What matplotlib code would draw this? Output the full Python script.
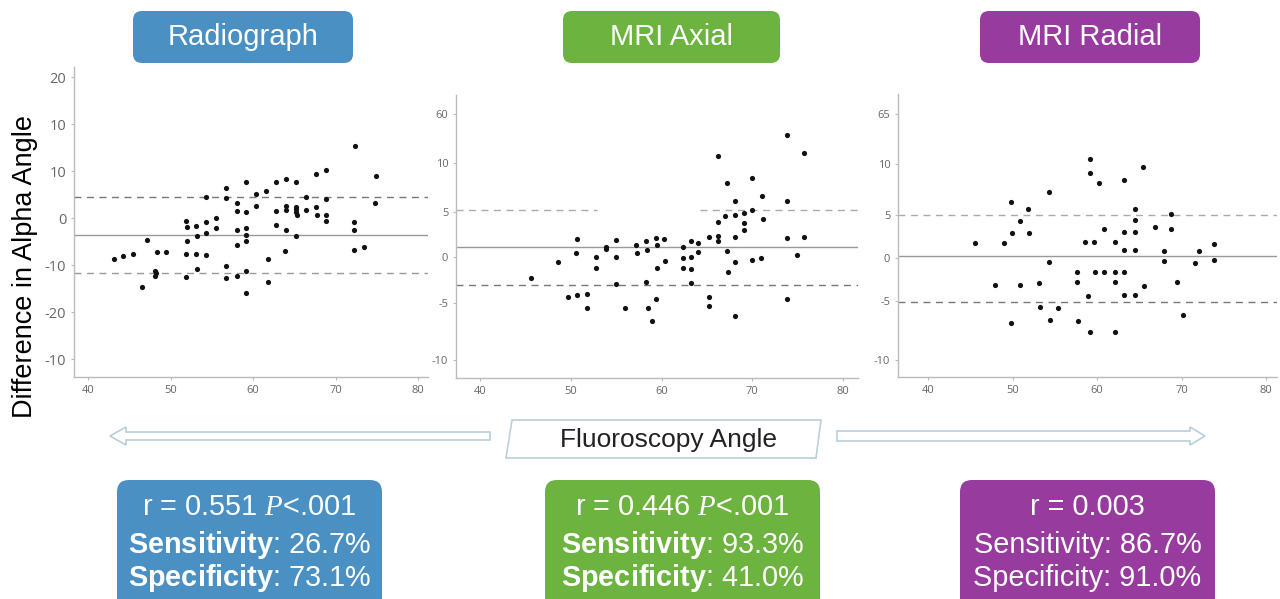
import matplotlib
matplotlib.use("Agg")
import matplotlib.pyplot as plt
from matplotlib.patches import FancyBboxPatch, Polygon
from matplotlib import font_manager

# ---------------- data ----------------
panel_titles = ["Radiograph", "MRI Axial", "MRI Radial"]

x_radiograph = [43.1, 44.2, 45.5, 47.1, 46.6, 48.3, 49.4, 48.1, 48.2, 48.1,
                51.9, 52.0, 52.0, 51.9, 51.9, 53.1, 53.2, 53.1, 53.2, 54.3,
                54.3, 54.3, 54.3, 55.5, 55.5, 56.7, 56.7, 56.7, 56.7, 58.0,
                58.0, 58.0, 58.0, 58.0, 59.2, 59.2, 59.2, 59.2, 59.2, 59.2,
                59.2, 60.4, 60.4, 61.6, 61.8, 61.8, 62.8, 62.8, 62.8, 64.0,
                64.0, 64.0, 64.0, 63.9, 65.2, 65.2, 65.2, 65.2, 65.3, 65.2,
                66.4, 66.4, 67.6, 67.6, 67.7, 68.8, 68.8, 68.8, 68.8, 72.3,
                72.2, 72.2, 72.2, 73.4, 74.9, 74.8]
y_radiograph = [-8.7, -8.0, -7.7, -4.6, -14.7, -7.2, -7.2, -11.3, -11.7, -12.3,
                -0.6, -1.8, -4.8, -7.7, -12.5, -1.7, -3.8, -7.7, -10.9, 4.5,
                -0.7, -3.2, -7.8, 0.1, -2.0, 6.5, 4.4, -10.1, -12.8, 3.2,
                1.5, -2.5, -5.7, -12.3, 7.7, 1.4, -2.1, -3.5, -4.8, -11.2,
                -15.9, 5.1, 2.6, 5.8, -8.7, -13.5, 7.7, 1.6, -1.4, 8.3,
                2.6, 1.7, -2.5, -6.9, 7.7, 2.5, 2.0, 1.4, 0.7, -3.7,
                4.5, 1.8, 9.4, 2.5, 0.6, 10.3, 4.2, 0.6, -0.6, 15.4,
                -0.8, -2.6, -6.7, -6.2, 9.0, 3.3]

x_mri_axial = [45.6, 48.5, 50.6, 50.5, 49.7, 50.6, 51.7, 51.7, 52.7, 52.7,
               53.8, 53.9, 55.0, 54.9, 54.9, 55.9, 57.2, 57.3, 58.3, 58.4,
               58.3, 58.5, 58.9, 59.4, 59.5, 59.5, 59.4, 60.3, 60.4, 62.3,
               62.3, 62.3, 63.2, 63.2, 63.2, 63.2, 64.0, 64.0, 65.2, 65.2,
               65.2, 66.2, 66.2, 66.2, 66.2, 67.0, 67.2, 67.2, 67.3, 68.1,
               68.1, 68.1, 68.1, 68.1, 69.1, 69.1, 69.1, 70.0, 70.0, 70.0,
               71.1, 71.2, 71.0, 73.8, 73.8, 73.8, 73.8, 74.9, 75.7, 75.7]
y_mri_axial = [-2.3, -0.5, 2.0, 0.5, -4.3, -4.1, -4.0, -5.5, 0.0, -1.2,
               1.2, 0.9, 1.9, 0.0, -2.9, -5.5, 1.4, 0.5, 1.8, 0.8,
               -2.7, -5.5, -7.0, 2.1, 1.4, -1.2, -4.6, 2.0, -0.4, 1.1,
               -0.1, -1.1, 1.8, 0.1, -1.3, -2.8, 1.6, 0.6, 2.2, -4.3,
               -5.3, 11.1, 3.9, 2.4, 1.8, 4.6, 8.2, 0.7, -1.6, 6.2,
               4.7, 2.2, -0.5, -6.4, 4.9, 3.8, 3.0, 8.7, 5.2, -0.3,
               6.7, 4.2, -0.1, 13.4, 6.2, 2.1, -4.5, 0.3, 11.4, 2.2]

x_mri_radial = [45.5, 47.9, 49.0, 49.8, 49.9, 49.8, 50.8, 50.9, 51.8, 51.9,
                53.1, 53.2, 54.3, 54.3, 54.4, 55.4, 57.6, 57.6, 57.7, 58.5,
                58.9, 59.1, 59.1, 59.1, 59.6, 59.7, 60.2, 60.8, 60.8, 62.1,
                62.1, 62.1, 62.1, 63.2, 63.2, 63.2, 63.2, 63.2, 64.5, 64.5,
                64.5, 64.5, 64.5, 65.4, 65.6, 66.8, 67.9, 67.9, 68.8, 68.8,
                69.4, 70.2, 71.6, 72.1, 73.8, 73.8]
y_mri_radial = [1.8, -3.1, 1.8, 6.5, 2.9, -7.5, 4.3, -3.1, 5.7, 2.9,
                -2.9, -5.7, 7.7, -0.4, -7.2, -5.8, -1.6, -2.8, -7.3, 1.9,
                -4.4, 11.6, 9.9, -8.6, 1.9, -1.6, 8.8, 3.4, -1.6, 1.9,
                -1.6, -2.8, -8.6, 9.1, 3.0, 1.0, -1.6, -4.3, 5.7, 4.4,
                3.1, 1.0, -4.3, 10.6, -3.2, 3.6, 0.9, -0.3, 5.1, 3.4,
                -2.7, -6.6, -0.5, 0.8, 1.7, -0.2]

# Bland-Altman lines: mean, upper limit, lower limit
mean_lines = [-3.6, 1.17, 0.31]
upper_limits = [4.6, 5.2, 5.0]
lower_limits = [-11.6, -3.03, -5.04]

x_ticks = [40, 50, 60, 70, 80]
x_tick_labels = ["40", "50", "60", "70", "80"]
y_tick_pos = [[30, 20, 10, 0, -10, -20, -30],
              [15.7, 10.3, 4.93, 0, -5, -11.2],
              [16.8, 11.0, 5.0, 0, -5, -11.8]]
y_tick_labels = [["20", "10", "10", "0", "-10", "-20", "-10"],
                 ["60", "10", "5", "0", "-5", "-10"],
                 ["65", "10", "5", "0", "-5", "-10"]]

r_lines = ["r = 0.551 $\\mathit{P}$<.001", "r = 0.446 $\\mathit{P}$<.001", "r = 0.003"]
sens_values = ["26.7%", "93.3%", "86.7%"]
spec_values = ["73.1%", "41.0%", "91.0%"]
bold_labels = [True, True, False]

y_label = "Difference in Alpha Angle"
x_label = "Fluoroscopy Angle"

# ---------------- style ----------------
W, H = 1280, 599
colors = ["#4a90c2", "#6cb33f", "#973b9f"]
narrow = "Liberation Sans Narrow"
names = {f.name for f in font_manager.fontManager.ttflist}
if narrow not in names:
    narrow = "Liberation Sans"

plt.rcParams["mathtext.fontset"] = "custom"
plt.rcParams["mathtext.it"] = "Liberation Serif:italic"
plt.rcParams["mathtext.rm"] = narrow
plt.rcParams["mathtext.bf"] = narrow + ":bold"

fig = plt.figure(figsize=(W / 100, H / 100), dpi=100)

# overlay axes in pixel coordinates
ov = fig.add_axes([0, 0, 1, 1])
ov.set_xlim(0, W)
ov.set_ylim(H, 0)
ov.axis("off")

axes_px = [(74, 428, 67, 377), (456, 858, 95, 378), (898, 1277, 94, 377)]
xlims = [(38.3, 81.2), (37.3, 81.65), (36.4, 81.3)]
ylims = [(-33.8, 32.2), (-13.2, 17.8), (-13.8, 19.1)]
xs = [x_radiograph, x_mri_axial, x_mri_radial]
ys = [y_radiograph, y_mri_axial, y_mri_radial]
tick_fs = [10.5, 8, 8]

for i in range(3):
    l, r, t, b = axes_px[i]
    ax = fig.add_axes([l / W, 1 - b / H, (r - l) / W, (b - t) / H])
    ax.set_xlim(*xlims[i])
    ax.set_ylim(*ylims[i])
    ax.patch.set_alpha(0)
    for s in ["top", "right"]:
        ax.spines[s].set_visible(False)
    for s in ["left", "bottom"]:
        ax.spines[s].set_color("#bbbbbb")
        ax.spines[s].set_linewidth(1.0)
    ax.set_xticks(x_ticks)
    ax.set_xticklabels(x_tick_labels)
    ax.set_yticks(y_tick_pos[i])
    ax.set_yticklabels(y_tick_labels[i])
    ax.tick_params(axis="both", colors="#bbbbbb", labelcolor="#666666",
                   length=2, width=0.8, labelsize=8)
    ax.tick_params(axis="y", labelsize=tick_fs[i])
    for lab in ax.get_xticklabels() + ax.get_yticklabels():
        lab.set_fontfamily("Open Sans")
    ax.axhline(mean_lines[i], color="#999999", lw=1.0, zorder=1)
    if i == 1:
        ax.axhline(upper_limits[i], xmax=0.35, color="#aaaaaa", lw=1.0, ls=(0, (5, 4)), zorder=1)
        ax.axhline(upper_limits[i], xmin=0.607, color="#aaaaaa", lw=1.0, ls=(0, (5, 4)), zorder=1)
    else:
        ax.axhline(upper_limits[i], color="#777777" if i == 0 else "#aaaaaa",
                   lw=1.0, ls=(0, (5, 4)), zorder=1)
    ax.axhline(lower_limits[i], color="#999999" if i == 0 else "#777777",
               lw=1.0, ls=(0, (5, 4)), zorder=1)
    ax.scatter(xs[i], ys[i], s=14, color="#111111", zorder=3, linewidths=0)

# title boxes
title_boxes = [(133, 353), (563, 780), (980, 1200)]
for i, (x0, x1) in enumerate(title_boxes):
    ov.add_patch(FancyBboxPatch((x0, 11), x1 - x0, 52,
                                boxstyle="round,pad=0,rounding_size=9",
                                fc=colors[i], ec="none"))
    ov.text((x0 + x1) / 2, 37, panel_titles[i], color="white", fontsize=21,
            family="Liberation Sans", ha="center", va="center")

# y label
ov.text(25, 266, y_label, rotation=90, fontsize=19.5, family="Liberation Sans",
        ha="center", va="center", color="black")

# arrows
arrow_ec = "#b9cfd9"
ov.add_patch(Polygon([(110, 436), (126, 427), (126, 432), (490, 432), (490, 440),
                      (126, 440), (126, 445)], closed=True, fc="white", ec=arrow_ec, lw=1.2))
ov.add_patch(Polygon([(837, 431), (1190, 431), (1190, 427), (1205, 436), (1190, 445),
                      (1190, 441), (837, 441)], closed=True, fc="white", ec=arrow_ec, lw=1.2))
ov.add_patch(Polygon([(512, 420), (821, 420), (816, 458), (506, 458)], closed=True,
                     fc="white", ec=arrow_ec, lw=1.2))
ov.text(668, 440, x_label, fontsize=19, family="Liberation Sans", ha="center",
        va="center", color="#222222")

# bottom stat boxes
stat_boxes = [(117, 382), (545, 820), (960, 1215)]
for i, (x0, x1) in enumerate(stat_boxes):
    ov.add_patch(FancyBboxPatch((x0, 480), x1 - x0, 140,
                                boxstyle="round,pad=0,rounding_size=12",
                                fc=colors[i], ec="none"))
    cx = (x0 + x1) / 2
    if bold_labels[i]:
        sens = "$\\mathbf{Sensitivity}$: " + sens_values[i]
        spec = "$\\mathbf{Specificity}$: " + spec_values[i]
    else:
        sens = "Sensitivity: " + sens_values[i]
        spec = "Specificity: " + spec_values[i]
    fs = 24 if narrow != "Liberation Sans" else 20.8
    for txt, yy in [(r_lines[i], 507), (sens, 545), (spec, 578)]:
        ov.text(cx, yy, txt, color="white", fontsize=fs, family=narrow,
                ha="center", va="center")

fig.savefig("out.png", dpi=100)
